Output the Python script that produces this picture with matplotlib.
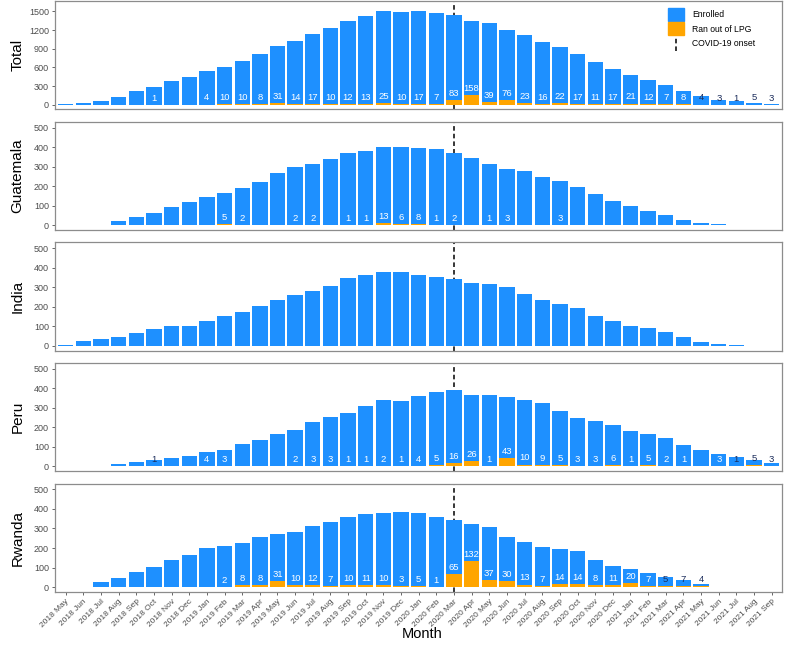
"""
Monthly enrolment and LPG run-outs per country, faceted bar chart.
"""
import numpy as np
import matplotlib
matplotlib.use("Agg")
import matplotlib.pyplot as plt
from matplotlib.patches import Patch
from matplotlib.lines import Line2D
from matplotlib.legend_handler import HandlerBase

plt.rcParams['font.family'] = ['Liberation Sans', 'DejaVu Sans']

months = [
    "2018 May", "2018 Jun", "2018 Jul", "2018 Aug", "2018 Sep", "2018 Oct",
    "2018 Nov", "2018 Dec", "2019 Jan", "2019 Feb", "2019 Mar", "2019 Apr",
    "2019 May", "2019 Jun", "2019 Jul", "2019 Aug", "2019 Sep", "2019 Oct",
    "2019 Nov", "2019 Dec", "2020 Jan", "2020 Feb", "2020 Mar", "2020 Apr",
    "2020 May", "2020 Jun", "2020 Jul", "2020 Aug", "2020 Sep", "2020 Oct",
    "2020 Nov", "2020 Dec", "2021 Jan", "2021 Feb", "2021 Mar", "2021 Apr",
    "2021 May", "2021 Jun", "2021 Jul", "2021 Aug", "2021 Sep",
]
covid_month = "2020 Mar"

total_enrolled = [7, 30, 65, 124, 214, 290, 380, 442, 550, 615, 706, 815,
                  940, 1030, 1138, 1236, 1345, 1425, 1500, 1498, 1500, 1482,
                  1448, 1352, 1307, 1200, 1117, 1005, 924, 822, 687, 572,
                  471, 401, 323, 216, 136, 80, 54, 28, 17]
total_ranout = [0, 0, 0, 0, 0, 1, 0, 0, 4, 10, 10, 8, 31, 14, 17, 10, 12, 13,
                25, 10, 17, 7, 83, 158, 39, 76, 23, 16, 22, 17, 11, 17, 21,
                12, 7, 8, 4, 3, 1, 5, 3]

guatemala_enrolled = [0, 0, 2, 22, 44, 64, 93, 119, 144, 168, 192, 224, 270,
                      297, 314, 342, 368, 381, 403, 400, 398, 393, 371, 344,
                      315, 290, 276, 246, 229, 195, 161, 125, 98, 75, 54, 25,
                      14, 5, 2, 0, 0]
guatemala_ranout = [0, 0, 0, 0, 0, 0, 0, 0, 0, 5, 2, 0, 0, 2, 2, 0, 1, 1, 13,
                    6, 8, 1, 2, 0, 1, 3, 0, 0, 3, 0, 0, 0, 0, 0, 0, 0, 0, 0,
                    0, 0, 0]

india_enrolled = [7, 27, 36, 46, 64, 85, 100, 102, 129, 153, 176, 202, 236,
                  263, 280, 307, 346, 361, 380, 380, 363, 353, 341, 322, 319,
                  300, 266, 234, 217, 193, 154, 127, 100, 90, 71, 46, 22, 10,
                  5, 0, 0]
india_ranout = [0] * 41

peru_enrolled = [0, 0, 2, 12, 22, 34, 42, 54, 73, 85, 113, 135, 166, 188, 230,
                 255, 272, 308, 343, 336, 363, 380, 394, 368, 365, 357, 343,
                 326, 284, 250, 233, 210, 184, 167, 144, 108, 85, 63, 47, 32,
                 19]
peru_ranout = [0, 0, 0, 0, 0, 1, 0, 0, 4, 3, 0, 0, 0, 2, 3, 3, 1, 1, 2, 1, 4,
               5, 16, 26, 1, 43, 10, 9, 5, 3, 3, 6, 1, 5, 2, 1, 0, 3, 1, 5, 3]

rwanda_enrolled = [0, 2, 25, 46, 78, 105, 137, 163, 200, 208, 225, 254, 270,
                   280, 312, 334, 361, 376, 380, 385, 378, 359, 346, 324, 307,
                   258, 229, 203, 197, 186, 141, 110, 90, 71, 53, 37, 17, 0,
                   0, 0, 0]
rwanda_ranout = [0, 0, 0, 0, 0, 0, 0, 0, 0, 2, 8, 8, 31, 10, 12, 7, 10, 11,
                 10, 3, 5, 1, 65, 132, 37, 30, 13, 7, 14, 14, 8, 11, 20, 7, 5,
                 7, 4, 0, 0, 0, 0]

BLUE = "#1E90FF"
ORANGE = "#FFA500"
DARK_TEXT = "#1c2d5c"
GREY = "#4d4d4d"


class VLineHandler(HandlerBase):
    def create_artists(self, legend, orig_handle, xdescent, ydescent,
                       width, height, fontsize, trans):
        x = width / 2 - xdescent
        line = Line2D([x, x], [-ydescent - 1, height - ydescent + 1],
                      color="black", linestyle=(0, (3, 2)), linewidth=1.1,
                      transform=trans)
        return [line]


panels = [
    ("Total", total_enrolled, total_ranout, (-74, 1662), [0, 300, 600, 900, 1200, 1500]),
    ("Guatemala", guatemala_enrolled, guatemala_ranout, (-24, 530), [0, 100, 200, 300, 400, 500]),
    ("India", india_enrolled, india_ranout, (-24, 530), [0, 100, 200, 300, 400, 500]),
    ("Peru", peru_enrolled, peru_ranout, (-24, 530), [0, 100, 200, 300, 400, 500]),
    ("Rwanda", rwanda_enrolled, rwanda_ranout, (-24, 530), [0, 100, 200, 300, 400, 500]),
]

fig, axes = plt.subplots(5, 1, figsize=(7.87, 6.46), dpi=100)
fig.subplots_adjust(left=0.070, right=0.994, top=0.998, bottom=0.084, hspace=0.115)

x = np.arange(len(months))
covid_x = months.index(covid_month)

for ax, (name, enrolled, ranout, ylim, yticks) in zip(axes, panels):
    ax.axvline(covid_x, color="black", linestyle=(0, (3, 2)), linewidth=1.1, zorder=1)
    ax.bar(x, enrolled, width=0.87, color=BLUE, zorder=2)
    ax.bar(x, ranout, width=0.87, color=ORANGE, zorder=3)

    span = ylim[1] - ylim[0]
    for xi, e, r in zip(x, enrolled, ranout):
        if r <= 0:
            continue
        col = "white" if e >= r + 0.1 * span else DARK_TEXT
        ax.annotate(str(r), (xi, r), xytext=(0, 1.5), textcoords="offset points",
                    ha="center", va="bottom", fontsize=6.8, color=col, zorder=4)

    ax.set_xlim(-0.6, len(months) - 0.4)
    ax.set_ylim(*ylim)
    ax.set_yticks(yticks)
    ax.tick_params(axis="y", labelsize=6.5, colors=GREY, length=2.5, width=0.6, pad=2)
    for sp in ax.spines.values():
        sp.set_color("#8c8c8c")
        sp.set_linewidth(0.9)
    ax.text(-0.052, 0.5, name, rotation=90, transform=ax.transAxes,
            ha="center", va="center", fontsize=11)

    if ax is axes[-1]:
        ax.set_xticks(x)
        ax.set_xticklabels(months, rotation=45, ha="right", rotation_mode="anchor")
        ax.tick_params(axis="x", labelsize=6, colors=GREY, length=2.5, width=0.6, pad=2)
    else:
        ax.set_xticks([])

fig.text(0.536, 0.018, "Month", ha="center", va="center", fontsize=10.5)

handles = [Patch(color=BLUE), Patch(color=ORANGE), Line2D([], [])]
axes[0].legend(handles, ["Enrolled", "Ran out of LPG", "COVID-19 onset"],
               handler_map={Line2D: VLineHandler()},
               loc="upper left", bbox_to_anchor=(0.838, 0.97), frameon=False,
               fontsize=6.2, handlelength=1.9, handleheight=1.9, labelspacing=0.2,
               handletextpad=0.9, borderaxespad=0)

fig.savefig("out.png", dpi=100)
